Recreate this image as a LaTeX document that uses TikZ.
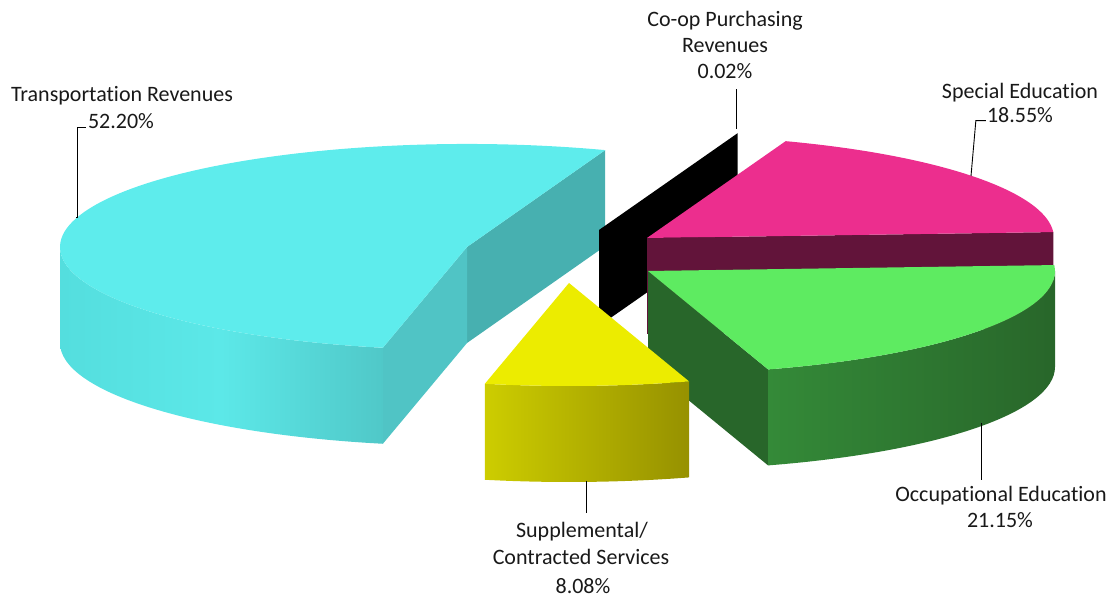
\documentclass[tikz,border=0pt]{standalone}
\usepackage{fontspec}
\setmainfont{Carlito}[Ligatures=NoCommon]
% slice colours
\definecolor{cyanTop}{RGB}{94,236,236}
\definecolor{cyanDark}{RGB}{71,176,176}
\definecolor{cyanMid}{RGB}{80,196,197}
\definecolor{cyanSideL}{RGB}{84,222,222}
\definecolor{cyanSideC}{RGB}{92,232,232}
\definecolor{cyanSideR}{RGB}{80,200,200}
\definecolor{pinkTop}{RGB}{236,46,142}
\definecolor{pinkSide}{RGB}{98,20,58}
\definecolor{greenTop}{RGB}{94,235,97}
\definecolor{greenDark}{RGB}{40,102,42}
\definecolor{greenSideL}{RGB}{52,138,56}
\definecolor{yellowTop}{RGB}{236,236,0}
\definecolor{yellowSideL}{RGB}{205,205,0}
\definecolor{yellowSideR}{RGB}{150,145,0}
\definecolor{labeltext}{RGB}{25,25,25}
\begin{document}
\begin{tikzpicture}[x=1pt,y=1pt,
  lbl/.style={font=\fontsize{22}{26}\selectfont, text=labeltext, inner sep=0pt, anchor=base},
  leader/.style={draw=black, line width=0.9pt}]
\useasboundingbox (0,0) rectangle (1117,601);

% Transportation Revenues slice
\begin{scope}[shift={(467,354)}]
  \fill[cyanDark] (0,0) -- (70.15:407 and 103) -- ++(0,-96) -- (0,-96) -- cycle;
  \fill[cyanMid] (0,0) -- (258.07:407 and 103) -- ++(0,-96) -- (0,-96) -- cycle;
  \shade[left color=cyanSideL, right color=cyanSideR, middle color=cyanSideC]
    (180:407 and 103) arc[start angle=180, end angle=258.07, x radius=407, y radius=103]
    -- ++(0,-96) arc[start angle=258.07, end angle=180, x radius=407, y radius=103] -- cycle;
  \fill[cyanTop] (0,0) -- (70.15:407 and 103)
    arc[start angle=70.15, end angle=258.07, x radius=407, y radius=103] -- cycle;
\end{scope}

% Co-op Purchasing slice (a thin wall)
\begin{scope}[shift={(599,371)}]
  \fill[black] (0,0) -- (70.08:407 and 103) -- ++(0,-96) -- (0,-96) -- cycle;
\end{scope}

% Special Education slice
\begin{scope}[shift={(647,363)}]
  \fill[pinkSide] (0,0) -- (3.3:407 and 103) -- ++(0,-96) -- (0,-96) -- cycle;
  \fill[pinkTop] (0,0) -- (3.3:407 and 103)
    arc[start angle=3.3, end angle=70.08, x radius=407, y radius=103] -- cycle;
\end{scope}

% Occupational Education slice
\begin{scope}[shift={(648,330)}]
  \fill[greenDark] (0,0) -- (-72.84:407 and 103) -- ++(0,-96) -- (0,-96) -- cycle;
  \shade[left color=greenSideL, right color=greenDark]
    (-72.84:407 and 103) arc[start angle=-72.84, end angle=0, x radius=407, y radius=103]
    -- ++(0,-96) arc[start angle=0, end angle=-72.84, x radius=407, y radius=103] -- cycle;
  \fill[greenTop] (0,0) -- (-72.84:407 and 103)
    arc[start angle=-72.84, end angle=3.3, x radius=407, y radius=103] -- cycle;
\end{scope}

% Supplemental / Contracted Services slice
\begin{scope}[shift={(569,318)}]
  \shade[left color=yellowSideL, right color=yellowSideR]
    (258.07:407 and 103) arc[start angle=258.07, end angle=287.16, x radius=407, y radius=103]
    -- ++(0,-96) arc[start angle=287.16, end angle=258.07, x radius=407, y radius=103] -- cycle;
  \fill[yellowTop] (0,0) -- (258.07:407 and 103)
    arc[start angle=258.07, end angle=287.16, x radius=407, y radius=103] -- cycle;
\end{scope}

% labels
\node[lbl] (tr1) at (122,499) {Transportation Revenues};
\node[lbl] (tr2) at (121,472) {52.20\%};
\node[lbl] (co1) at (725,574) {Co-op Purchasing};
\node[lbl] (co2) at (725,548) {Revenues};
\node[lbl] (co3) at (725,522) {0.02\%};
\node[lbl] (se1) at (1020,502) {Special Education};
\node[lbl] (se2) at (1020,478) {18.55\%};
\node[lbl] (oe1) at (1001,99) {Occupational Education};
\node[lbl] (oe2) at (1000,73) {21.15\%};
\node[lbl] (su1) at (582,63) {Supplemental/};
\node[lbl] (su2) at (581,36) {Contracted Services};
\node[lbl] (su3) at (583,7) {8.08\%};

% leader line ends on the slices
\coordinate (trEnd) at (76,384);
\coordinate (coEnd) at (736,472);
\coordinate (seEnd) at (971,425);
\coordinate (oeEnd) at (981,178);
\coordinate (suEnd) at (586,120);

\draw[leader] (tr2.west) ++(-2,-6) -- ++(-8,0) |- (trEnd);
\draw[leader] (coEnd) -- (736,512);
\draw[leader] (se2.west) ++(-1,-5) -- ++(-10,0) -- (seEnd);
\draw[leader] (oeEnd) -- (981,121);
\draw[leader] (suEnd) -- (586,88);
\end{tikzpicture}
\end{document}
